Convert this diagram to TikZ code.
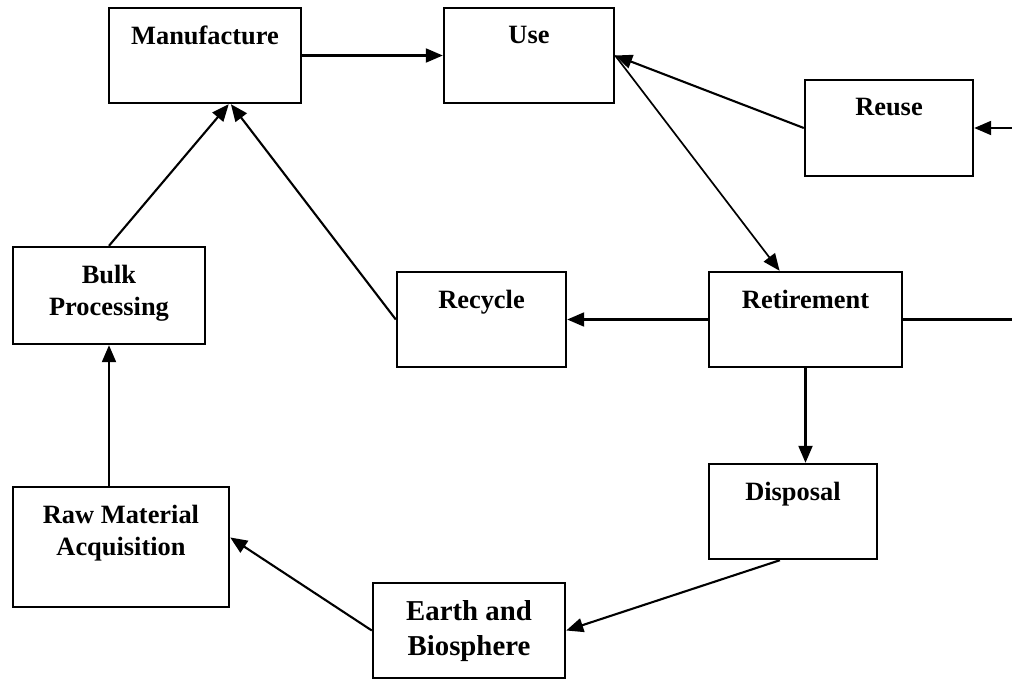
\documentclass[tikz,border=0pt]{standalone}
\usepackage{fontspec}
\setmainfont{Liberation Serif}
\usetikzlibrary{arrows.meta,positioning}

\begin{document}
\begin{tikzpicture}[x=1pt,y=-1pt,>={Triangle[length=17pt,width=14pt]},
	box/.style={draw,line width=2.4pt,inner sep=0pt},
	lbl/.style={inner sep=0pt,align=center,font=\bfseries\fontsize{26.4}{32}\selectfont},
	big/.style={font=\bfseries\fontsize{28.8}{35}\selectfont}]

\useasboundingbox (0,0) rectangle (1012,680);

% the boxes
\node[box,minimum width=192pt,minimum height=95pt]   (man)   at (205,55.5)  {};
\node[box,minimum width=170pt,minimum height=95pt]   (use)   at (529,55.5)  {};
\node[box,minimum width=168pt,minimum height=96pt]   (reuse) at (889,128)   {};
\node[box,minimum width=192pt,minimum height=97pt]   (bulk)  at (109,295.5) {};
\node[box,minimum width=169pt,minimum height=95pt]   (recyc) at (481.5,319.5) {};
\node[box,minimum width=193pt,minimum height=95pt]   (ret)   at (805.5,319.5) {};
\node[box,minimum width=168pt,minimum height=95pt]   (disp)  at (793,511.5) {};
\node[box,minimum width=216pt,minimum height=120pt]  (raw)   at (121,547)   {};
\node[box,minimum width=192pt,minimum height=95pt]   (earth) at (469,630.5) {};

% the texts
\node[lbl] (man-l)   [below=19pt of man.north]   {Manufacture};
\node[lbl] (use-l)   [below=19pt of use.north]   {Use};
\node[lbl] (reuse-l) [below=19pt of reuse.north] {Reuse};
\node[lbl] (bulk-l)  [below=19pt of bulk.north]  {Bulk\\Processing};
\node[lbl] (recyc-l) [below=19pt of recyc.north] {Recycle};
\node[lbl] (ret-l)   [below=19pt of ret.north]   {Retirement};
\node[lbl] (disp-l)  [below=19pt of disp.north]  {Disposal};
\node[lbl] (raw-l)   [below=19pt of raw.north]   {Raw Material\\Acquisition};
\node[lbl,big] (earth-l) [below=19pt of earth.north] {Earth and\\Biosphere};

\coordinate (outR) at (1012,319.5);
\coordinate (outU) at (1012,128);

\path[->,line width=2.1pt]
(man)  edge  (use)
(reuse.west)  edge  (use.east)
(use.east)  edge[line width=1.7pt]  (ret.118)
(ret.west)  edge  (recyc.east)
(recyc.west)  edge  (man.-62)
(bulk.north)  edge  (man.-64)
(bulk.south |- raw.north)  edge  (bulk.south)
(earth.west)  edge  (raw.5)
(disp.-105)  edge  (earth.east)
(ret.south)  edge  (ret.south |- disp.north)
(ret.east)  edge[-]  (outR)
(outU)  edge  (reuse.east);
\end{tikzpicture}
\end{document}
